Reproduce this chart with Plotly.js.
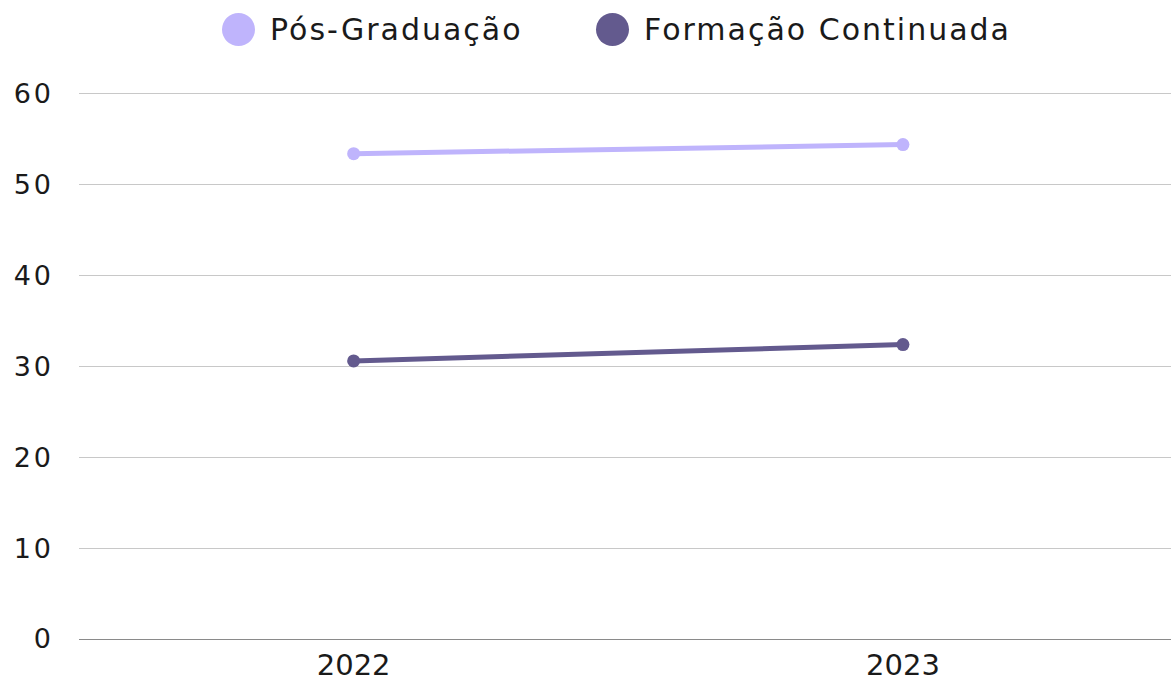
<!DOCTYPE html>
<html>
<head>
<meta charset="utf-8">
<script src="https://cdn.plot.ly/plotly-3.0.1.min.js"></script>
<style>
html,body{margin:0;padding:0;background:#fff;}
#chart{width:1171px;height:684px;}
.ytick text{letter-spacing:3px;}
.annotation-text{letter-spacing:2px;}
</style>
</head>
<body>
<div id="chart"></div>
<script>
const years = ["2022", "2023"];
const posGraduacao = [53.4, 54.4];
const formacaoContinuada = [30.6, 32.4];
const seriesNames = ["Pós-Graduação", "Formação Continuada"];
const seriesColors = ["#bfb4fc", "#635a8e"];
const yTicks = [0, 10, 20, 30, 40, 50, 60];

const FONT = "DejaVu Sans, sans-serif";

const traces = [
  {x: years, y: posGraduacao, name: seriesNames[0], type: "scatter", mode: "lines+markers",
   line: {color: seriesColors[0], width: 5}, marker: {color: seriesColors[0], size: 13}, showlegend: false},
  {x: years, y: formacaoContinuada, name: seriesNames[1], type: "scatter", mode: "lines+markers",
   line: {color: seriesColors[1], width: 5}, marker: {color: seriesColors[1], size: 13}, showlegend: false}
];

// custom legend geometry (paper coordinates)
const W = 1092, H = 548, L = 79, B = 45, HT = 684;
function px(x){ return (x - L) / W; }
function py(y){ return (HT - B - y) / H; }

const shapes = [
  {type: "circle", xref: "paper", yref: "paper", x0: px(222), x1: px(255), y0: py(46), y1: py(13),
   fillcolor: seriesColors[0], line: {width: 0}},
  {type: "circle", xref: "paper", yref: "paper", x0: px(596), x1: px(629), y0: py(46), y1: py(13),
   fillcolor: seriesColors[1], line: {width: 0}}
];
const annotations = [
  {xref: "paper", yref: "paper", x: px(268), y: py(30), xanchor: "left", yanchor: "middle", showarrow: false,
   text: seriesNames[0], font: {family: FONT, size: 30, color: "#1a1a1a"}},
  {xref: "paper", yref: "paper", x: px(642), y: py(30), xanchor: "left", yanchor: "middle", showarrow: false,
   text: seriesNames[1], font: {family: FONT, size: 30, color: "#1a1a1a"}}
];

const layout = {
  width: 1171, height: 684,
  margin: {l: 79, r: 0, t: 91, b: 45, pad: 0},
  paper_bgcolor: "#ffffff", plot_bgcolor: "#ffffff",
  font: {family: FONT, size: 26, color: "#1a1a1a"},
  showlegend: false,
  xaxis: {type: "category", showgrid: false, zeroline: false, showline: false,
    ticks: "", tickfont: {family: FONT, size: 29, color: "#1a1a1a"}, ticklabelstandoff: 6,
    range: [-0.5, 1.488]},
  yaxis: {range: [0, 60.3], tickvals: yTicks, ticktext: yTicks.map(String), showgrid: true,
    gridcolor: "#c8c8c8", gridwidth: 1, zeroline: true, zerolinecolor: "#8a8a8a", zerolinewidth: 1,
    showline: false, ticks: "", ticklabelstandoff: 24,
    tickfont: {family: FONT, size: 27, color: "#1a1a1a"}},
  shapes: shapes,
  annotations: annotations
};

Plotly.newPlot("chart", traces, layout, {displayModeBar: false, staticPlot: true});
</script>
</body>
</html>
